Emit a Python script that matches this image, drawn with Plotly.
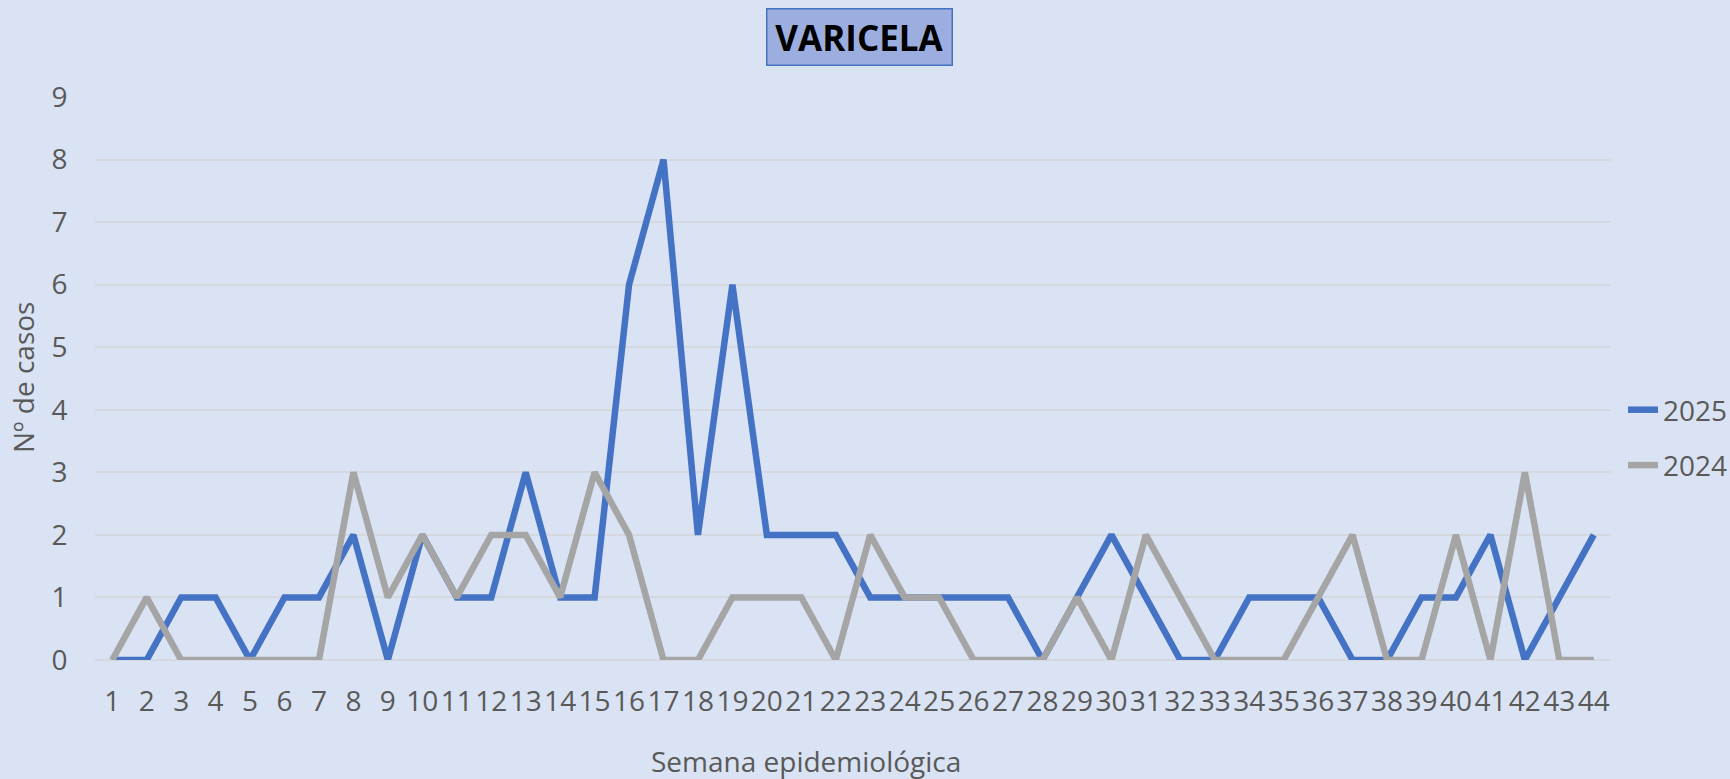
import plotly.graph_objects as go

weeks = list(range(1, 45))
cases_2025 = [0, 0, 1, 1, 0, 1, 1, 2, 0, 2, 1, 1, 3, 1, 1, 6, 8, 2, 6, 2, 2, 2,
              1, 1, 1, 1, 1, 0, 1, 2, 1, 0, 0, 1, 1, 1, 0, 0, 1, 1, 2, 0, 1, 2]
cases_2024 = [0, 1, 0, 0, 0, 0, 0, 3, 1, 2, 1, 2, 2, 1, 3, 2, 0, 0, 1, 1, 1, 0,
              2, 1, 1, 0, 0, 0, 1, 0, 2, 1, 0, 0, 0, 1, 2, 0, 0, 2, 0, 3, 0, 0]
y_ticks = list(range(0, 10))

FONT = "Open Sans, Calibri, sans-serif"
BG = "#DAE3F3"
TXT = "#595959"
GRID = "#D5D8DE"

fig = go.Figure()
fig.add_trace(go.Scatter(x=weeks, y=cases_2025, mode="lines", name="2025",
                         legendgroup="a",
                         line=dict(color="#4472C4", width=6.5)))
fig.add_trace(go.Scatter(x=weeks, y=cases_2024, mode="lines", name="2024",
                         legendgroup="b",
                         line=dict(color="#A5A5A5", width=6.5)))

W, H = 1730, 779
L, R, T, B = 95, 119, 97, 119
pw, ph = W - L - R, H - T - B

def px(x):
    return (x - L) / pw

def py(y):
    return (H - B - y) / ph

fig.update_layout(
    width=W, height=H,
    margin=dict(l=L, r=R, t=T, b=B, autoexpand=False),
    paper_bgcolor=BG, plot_bgcolor=BG,
    font=dict(family=FONT, color=TXT, size=28),
    showlegend=True,
    legend=dict(xref="container", yref="container",
                x=1623 / W, y=1 - 385 / H, xanchor="left", yanchor="top",
                bgcolor="rgba(0,0,0,0)", font=dict(size=28, color=TXT),
                traceorder="grouped", tracegroupgap=16),
    xaxis=dict(range=[0.5, 44.5], tickmode="array", tickvals=weeks,
               ticktext=[str(w) for w in weeks], tickangle=0,
               showgrid=False, zeroline=False, showline=False,
               ticks="outside", ticklen=16, tickcolor="rgba(0,0,0,0)",
               tickfont=dict(size=28, color=TXT)),
    yaxis=dict(range=[0, 9], tickvals=y_ticks, showgrid=True,
               gridcolor=GRID, gridwidth=1.5,
               zeroline=True, zerolinecolor=GRID, zerolinewidth=1.5,
               showline=False, ticks="outside", ticklen=21,
               tickcolor="rgba(0,0,0,0)", tickfont=dict(size=28, color=TXT)),
    annotations=[
        dict(text="<b>VARICELA</b>", xref="paper", yref="paper",
             x=px(859), y=py(37.5), xanchor="center", yanchor="middle",
             showarrow=False, font=dict(size=35, color="#000000", family=FONT),
             bgcolor="#9CAEDF", bordercolor="#4472C4", borderwidth=1.5,
             width=182, height=53),
        dict(text="Semana epidemiológica", xref="paper", yref="paper",
             x=px(806), y=py(761), xanchor="center", yanchor="middle",
             showarrow=False, font=dict(size=28, color=TXT)),
        dict(text="Nº de casos", xref="paper", yref="paper",
             x=px(23), y=py(378), xanchor="center", yanchor="middle",
             textangle=-90, showarrow=False, font=dict(size=28, color=TXT)),
    ],
)

fig.write_html("out.html", config={"displayModeBar": False},
               post_script="document.body.style.margin='0';"
                           "document.body.style.overflow='hidden';")
